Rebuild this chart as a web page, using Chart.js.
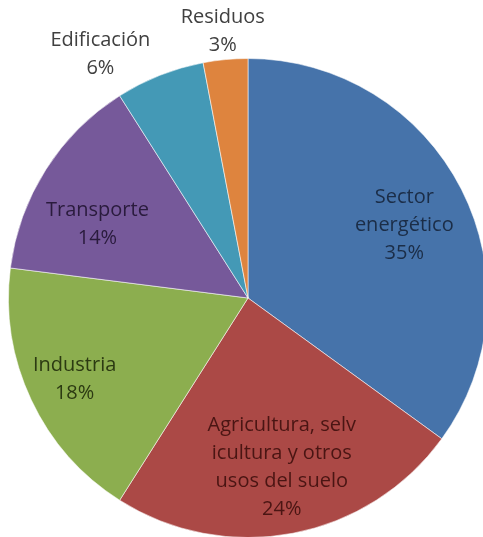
<!DOCTYPE html>
<html>
<head>
<meta charset="utf-8">
<script src="https://cdn.jsdelivr.net/npm/chart.js@4.4.1/dist/chart.umd.min.js"></script>
<style>
  html, body { margin: 0; padding: 0; background: #fff; overflow: hidden; }
  #wrap { position: absolute; left: 0; top: 0; }
</style>
</head>
<body>
<div id="wrap"><canvas id="pie" width="488" height="538"></canvas></div>
<script>
// sectors (clockwise from 12 o'clock)
const sectorLabels = [
  ['Sector', 'energético'],
  ['Agricultura, selv', 'icultura y otros', 'usos del suelo'],
  ['Industria'],
  ['Transporte'],
  ['Edificación'],
  ['Residuos']
];
const sectorShares = [35, 24, 18, 14, 6, 3];

const sliceColors = ['#4673AA', '#AB4946', '#8CAE4F', '#76599A', '#4499B6', '#DE843E'];
const textColors = ['#1b2d47', '#4a1513', '#2c3a12', '#2a1b3d', '#404040', '#404040'];
// label placement: distance from centre (fraction of radius) and angle nudge (deg)
const labelRadius = [0.72, 0.72, 0.80, 0.70, 1.19, 1.12];
const labelShift = [2, -0.5, 0, -6.3, -9.6, 0];

const labelPlugin = {
  id: 'sliceLabels',
  afterDatasetsDraw(chart) {
    const ctx = chart.ctx;
    const meta = chart.getDatasetMeta(0);
    ctx.save();
    ctx.font = '20px "Open Sans", sans-serif';
    ctx.textAlign = 'center';
    ctx.textBaseline = 'middle';
    const lh = 28;
    meta.data.forEach((arc, i) => {
      const p = arc.getProps(['x', 'y', 'startAngle', 'endAngle', 'outerRadius']);
      const mid = (p.startAngle + p.endAngle) / 2 + labelShift[i] * Math.PI / 180;
      const r = p.outerRadius * labelRadius[i];
      const cx = p.x + Math.cos(mid) * r;
      const cy = p.y + Math.sin(mid) * r;
      const lines = sectorLabels[i].concat([sectorShares[i] + '%']);
      const y0 = cy - (lines.length - 1) * lh / 2;
      ctx.fillStyle = textColors[i];
      lines.forEach((t, k) => ctx.fillText(t, cx, y0 + k * lh));
    });
    ctx.restore();
  }
};

new Chart(document.getElementById('pie'), {
  type: 'pie',
  data: {
    labels: sectorLabels.map(l => l.join('')),
    datasets: [{
      data: sectorShares,
      backgroundColor: sliceColors,
      borderColor: 'rgba(255,255,255,0.55)',
      borderWidth: 1
    }]
  },
  options: {
    responsive: false,
    animation: false,
    layout: { padding: { top: 58, left: 8, right: 0, bottom: 0 } },
    plugins: { legend: { display: false }, tooltip: { enabled: false } }
  },
  plugins: [labelPlugin]
});
</script>
</body>
</html>
